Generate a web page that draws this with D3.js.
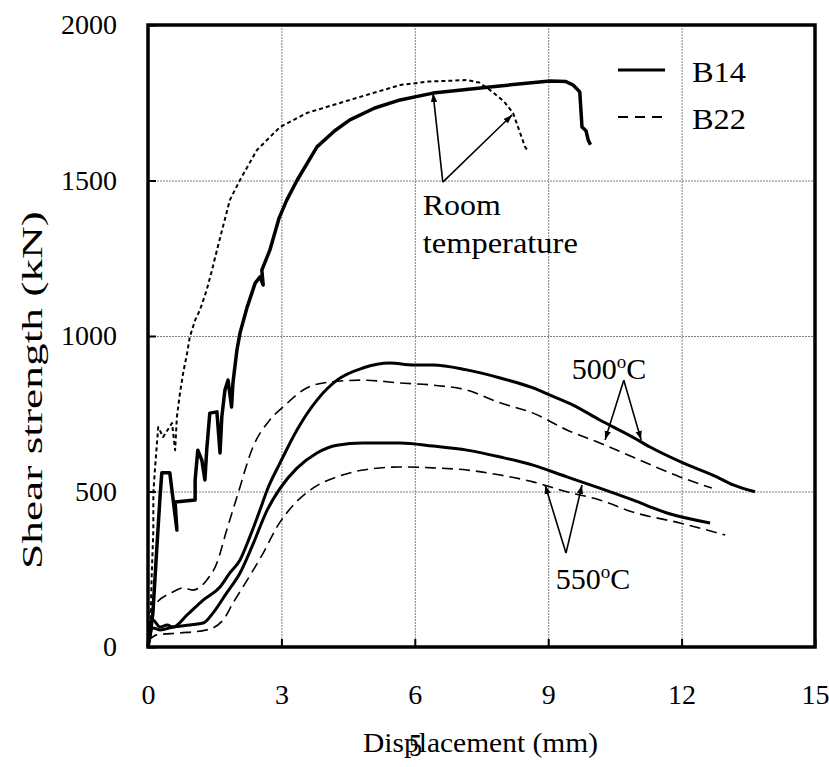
<!DOCTYPE html>
<html>
<head>
<meta charset="utf-8">
<script src="https://cdn.jsdelivr.net/npm/d3@7"></script>
<style>
  body { margin: 0; background: #fff; }
  svg text { font-family: "Liberation Serif", Times, "Times New Roman", serif; fill: #000; }
</style>
</head>
<body>
<svg id="chart"></svg>
<script>
// displacement (mm), shear strength (kN)
const b14Room = [[0,0],[0.05,40],[0.11,109],[0.2,322],[0.27,482],[0.31,560],[0.49,560],[0.65,376],[0.61,466],
  [1.06,473],[1.06,537],[1.12,633],[1.21,601],[1.28,537],[1.32,633],[1.39,752],[1.55,756],[1.62,624],[1.66,740],
  [1.73,826],[1.8,858],[1.88,772],[1.91,849],[2.0,955],[2.07,1010],[2.23,1093],[2.41,1170],[2.52,1190],[2.59,1164],
  [2.56,1212],[2.74,1276],[2.95,1380],[3.12,1437],[3.35,1500],[3.8,1608],[4.2,1660],[4.54,1695],[5.1,1733],
  [5.67,1759],[6.41,1781],[7.69,1801],[9.04,1820],[9.4,1818],[9.56,1807],[9.71,1785],[9.76,1672],[9.85,1660],
  [9.9,1630],[9.95,1615]];
const b22Room = [[0,0],[0.05,32],[0.08,215],[0.12,376],[0.12,495],[0.16,579],[0.23,707],[0.34,675],[0.54,720],
  [0.61,633],[0.65,740],[0.72,817],[0.79,881],[0.88,945],[0.94,997],[1.06,1051],[1.17,1084],[1.32,1148],
  [1.44,1212],[1.55,1276],[1.84,1437],[2.07,1502],[2.45,1598],[2.97,1672],[3.57,1717],[4.54,1759],[5.67,1807],
  [6.3,1818],[7.17,1823],[7.45,1815],[7.69,1791],[8.0,1755],[8.21,1717],[8.48,1608],[8.52,1600]];
const b14T500 = [[0,0],[0.05,80],[0.11,87],[0.27,64],[0.43,71],[0.56,64],[0.88,103],[1.24,151],[1.62,193],
  [1.84,238],[2.07,280],[2.29,354],[2.52,441],[2.68,505],[2.97,592],[3.35,698],[3.8,794],[4.25,858],[4.83,897],
  [5.44,913],[5.96,907],[6.41,907],[7.17,891],[7.92,865],[8.66,833],[9.04,810],[9.56,778],[10.16,730],
  [10.9,675],[11.29,643],[12.03,592],[12.79,547],[13.16,521],[13.65,499]];
const b22T500 = [[0,100],[0.12,129],[0.56,177],[0.79,190],[1.01,183],[1.32,215],[1.55,270],[1.77,376],[2.0,482],
  [2.36,643],[2.74,730],[3.04,772],[3.57,833],[4.09,852],[4.83,858],[5.67,849],[6.41,842],[7.17,826],[7.92,785],
  [8.66,752],[9.42,698],[10.16,656],[10.9,611],[11.96,547],[12.68,511]];
const b14T550 = [[0,0],[0.11,61],[0.27,55],[0.56,64],[0.94,71],[1.24,77],[1.46,109],[1.77,174],[2.07,238],
  [2.36,330],[2.68,440],[2.97,510],[3.35,575],[3.8,624],[4.25,649],[4.83,656],[5.67,656],[6.41,646],[7.17,633],
  [7.92,611],[8.66,585],[9.42,547],[10.16,511],[10.9,473],[11.67,431],[12.64,399]];
const b22T550 = [[0,20],[0.2,39],[0.72,45],[1.32,55],[1.69,87],[1.91,141],[2.23,215],[2.59,302],[2.9,386],
  [3.26,455],[3.71,511],[4.25,547],[4.83,569],[5.67,579],[6.41,576],[7.17,569],[7.92,553],[8.66,531],
  [9.42,499],[10.16,473],[10.9,434],[11.96,399],[12.98,360]];

const xTicks = [0, 3, 6, 9, 12, 15];
const yTicks = [0, 500, 1000, 1500, 2000];
const legendItems = ['B14', 'B22'];

// annotation arrows: [from, to] in data units
const roomArrows = [[[6.63,1495],[6.41,1781]], [[6.63,1495],[8.19,1711]]];
const t500Arrows = [[[10.70,858],[10.28,666]], [[10.70,858],[11.09,666]]];
const t550Arrows = [[[9.40,302],[8.93,521]], [[9.40,302],[9.76,521]]];

const width = 829, height = 767;
const margin = {top: 25, right: 14, bottom: 120, left: 148};
const innerW = width - margin.left - margin.right;
const innerH = height - margin.top - margin.bottom;
const serif = '"Liberation Serif", Times, "Times New Roman", serif';

const svg = d3.select('#chart').attr('width', width).attr('height', height);
const defs = svg.append('defs');
defs.append('marker')
  .attr('id', 'arrow')
  .attr('viewBox', '0 0 10 10')
  .attr('refX', 10).attr('refY', 5)
  .attr('markerWidth', 9).attr('markerHeight', 9)
  .attr('markerUnits', 'userSpaceOnUse')
  .attr('orient', 'auto')
  .append('path').attr('d', 'M0,1.5 L10,5 L0,8.5 Z').attr('fill', '#000');

const chart = svg.append('g').attr('transform', `translate(${margin.left},${margin.top})`);

const xscale = d3.scaleLinear().domain([0, 15]).range([0, innerW]);
const yscale = d3.scaleLinear().domain([0, 2000]).range([innerH, 0]);

// grid
chart.append('g')
  .call(d3.axisBottom(xscale).tickValues(xTicks).tickSize(innerH).tickFormat(''))
  .call(g => g.select('.domain').remove())
  .call(g => g.selectAll('line').attr('stroke', '#808080').attr('stroke-width', 1).attr('stroke-dasharray', '2,1'));
chart.append('g')
  .call(d3.axisLeft(yscale).tickValues(yTicks).tickSize(-innerW).tickFormat(''))
  .call(g => g.select('.domain').remove())
  .call(g => g.selectAll('line').attr('stroke', '#808080').attr('stroke-width', 1).attr('stroke-dasharray', '2,1'));

// axes with inward ticks
const xaxis = chart.append('g')
  .attr('transform', `translate(0,${innerH})`)
  .call(d3.axisBottom(xscale).tickValues(xTicks).tickSize(-8).tickPadding(37).tickFormat(d3.format('d')));
const yaxis = chart.append('g')
  .call(d3.axisLeft(yscale).tickValues(yTicks).tickSize(-8).tickPadding(31).tickFormat(d3.format('d')));
[xaxis, yaxis].forEach(g => {
  g.attr('font-family', serif);
  g.select('.domain').remove();
  g.selectAll('line').attr('stroke', '#000').attr('stroke-width', 2);
  g.selectAll('text').style('font-size', '28px');
});

// frame
chart.append('rect')
  .attr('x', 0).attr('y', 0).attr('width', innerW).attr('height', innerH)
  .attr('fill', 'none').attr('stroke', '#000').attr('stroke-width', 3.5);

const line = d3.line().x(d => xscale(d[0])).y(d => yscale(d[1]));
const smooth = d3.line().x(d => xscale(d[0])).y(d => yscale(d[1])).curve(d3.curveMonotoneX);

const series = [
  {data: b14Room, gen: line, w: 3.5, dash: null},
  {data: b22Room, gen: line, w: 2, dash: '4,3'},
  {data: b14T500, gen: smooth, w: 3, dash: null},
  {data: b22T500, gen: smooth, w: 1.6, dash: '11,6'},
  {data: b14T550, gen: smooth, w: 3, dash: null},
  {data: b22T550, gen: smooth, w: 1.6, dash: '11,6'}
];
chart.selectAll('path.curve')
  .data(series)
  .join('path')
  .attr('class', 'curve')
  .attr('fill', 'none')
  .attr('stroke', '#000')
  .attr('stroke-linejoin', 'round')
  .attr('stroke-width', d => d.w)
  .attr('stroke-dasharray', d => d.dash)
  .attr('d', d => d.gen(d.data));

// arrows
chart.selectAll('line.arrow')
  .data([...roomArrows, ...t500Arrows, ...t550Arrows])
  .join('line')
  .attr('class', 'arrow')
  .attr('x1', d => xscale(d[0][0])).attr('y1', d => yscale(d[0][1]))
  .attr('x2', d => xscale(d[1][0])).attr('y2', d => yscale(d[1][1]))
  .attr('stroke', '#000').attr('stroke-width', 1.6)
  .attr('marker-end', 'url(#arrow)');

// annotation texts
chart.append('text').attr('x', xscale(6.18)).attr('y', yscale(1389))
  .style('font-size', '30px').attr('textLength', 78).attr('lengthAdjust', 'spacingAndGlyphs').text('Room');
chart.append('text').attr('x', xscale(6.18)).attr('y', yscale(1267))
  .style('font-size', '30px').attr('textLength', 155).attr('lengthAdjust', 'spacingAndGlyphs').text('temperature');

function degLabel(xv, yv, num) {
  const t = chart.append('text').attr('x', xscale(xv)).attr('y', yscale(yv)).style('font-size', '30px');
  t.append('tspan').text(num);
  t.append('tspan').attr('dy', -11).style('font-size', '19px').text('o');
  t.append('tspan').attr('dy', 11).text('C');
}
degLabel(9.53, 862, '500');
degLabel(9.17, 186, '550');

// legend
const legend = svg.append('g').attr('transform', 'translate(618,70)');
legendItems.forEach((name, i) => {
  const g = legend.append('g').attr('transform', `translate(0,${i * 47})`);
  g.append('line').attr('x1', 0).attr('x2', 47).attr('y1', 0).attr('y2', 0)
    .attr('stroke', '#000').attr('stroke-width', i === 0 ? 3 : 2)
    .attr('stroke-dasharray', i === 0 ? null : '10,7');
  g.append('text').attr('x', 74).attr('y', 12).style('font-size', '30px')
    .attr('textLength', 54).attr('lengthAdjust', 'spacingAndGlyphs').text(name);
});

// axis titles (the stray "5" is a page number printed over the x title)
svg.append('text')
  .attr('x', 363).attr('y', 752)
  .style('font-size', '28px')
  .attr('textLength', 235).attr('lengthAdjust', 'spacingAndGlyphs')
  .text('Displacement (mm)');
svg.append('text')
  .attr('x', 409).attr('y', 756)
  .style('font-size', '32px')
  .attr('textLength', 13).attr('lengthAdjust', 'spacingAndGlyphs')
  .text('5');
svg.append('text')
  .attr('transform', 'translate(42,390) rotate(-90)')
  .attr('text-anchor', 'middle')
  .style('font-size', '30px')
  .attr('textLength', 358).attr('lengthAdjust', 'spacingAndGlyphs')
  .text('Shear strength (kN)');
</script>
</body>
</html>
